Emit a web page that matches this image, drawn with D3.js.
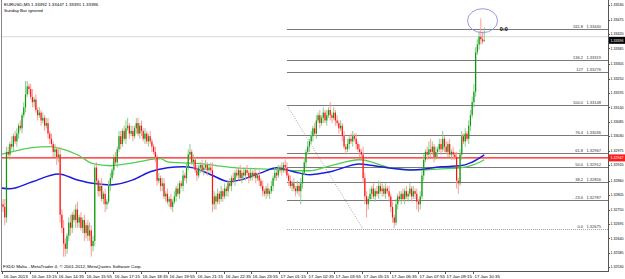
<!DOCTYPE html>
<html>
<head>
<meta charset="utf-8">
<script src="https://cdn.jsdelivr.net/npm/d3@7"></script>
<style>
body { margin: 0; background: #fff; }
text { font-family: "Liberation Sans", Arial, sans-serif; }
</style>
</head>
<body>
<svg id="plotCanvas" width="625" height="279"></svg>
<script>
// ---- data ----
var symbolLine = "EURUSD,M5  1.33392 1.33447 1.33391 1.33396";
var noteLine = "Sunday Bar ignored";
var copyrightLine = "FXDD Malta - MetaTrader 4, \u00a9 2001-2012, MetaQuotes Software Corp.";

var timeLabels = ["16 Jan 2013", "16 Jan 13:15", "16 Jan 14:35", "16 Jan 15:55", "16 Jan 17:15",
  "16 Jan 18:35", "16 Jan 19:55", "16 Jan 21:15", "16 Jan 22:35", "16 Jan 23:55", "17 Jan 01:15",
  "17 Jan 02:35", "17 Jan 03:55", "17 Jan 05:15", "17 Jan 06:35", "17 Jan 07:55", "17 Jan 09:15",
  "17 Jan 10:35"];
var barsPerLabel = 16;

var priceTicks = [1.33530, 1.33475, 1.33420, 1.33365, 1.33305, 1.33250, 1.33195, 1.33140, 1.33085,
  1.33030, 1.32975, 1.32920, 1.32860, 1.32805, 1.32750, 1.32695, 1.32640, 1.32585, 1.32530];

var firstOpen = 1.3277;
var closes = [
  1.3276,1.3272,1.3297,1.3296,1.3300,1.3299,1.3303,1.3301,1.3304,1.3307,
  1.3306,1.3311,1.3314,1.3319,1.3322,1.3321,1.3318,1.3316,1.3317,1.3313,
  1.3311,1.3312,1.3309,1.3310,1.3307,1.3308,1.3304,1.3302,1.3300,1.3297,
  1.3298,1.3295,1.3296,1.3273,1.3268,1.3262,1.3260,1.3265,1.3270,1.3268,
  1.3273,1.3271,1.3275,1.3270,1.3272,1.3268,1.3271,1.3266,1.3269,1.3265,
  1.3267,1.3261,1.3263,1.3291,1.3286,1.3282,1.3284,1.3279,1.3281,1.3277,
  1.3278,1.3284,1.3287,1.3290,1.3295,1.3293,1.3298,1.3303,1.3300,1.3305,
  1.3302,1.3306,1.3307,1.3304,1.3305,1.3303,1.3306,1.3308,1.3304,1.3307,
  1.3305,1.3302,1.3304,1.3301,1.3303,1.3301,1.3299,1.3297,1.3295,1.3286,
  1.3287,1.3284,1.3285,1.3280,1.3281,1.3278,1.3279,1.3276,1.3278,1.3280,
  1.3283,1.3281,1.3285,1.3284,1.3288,1.3287,1.3291,1.3296,1.3297,1.3293,
  1.3294,1.3290,1.3288,1.3291,1.3292,1.3290,1.3291,1.3292,1.3290,1.3291,
  1.3290,1.3277,1.3280,1.3278,1.3281,1.3279,1.3282,1.3280,1.3283,1.3282,
  1.3285,1.3284,1.3287,1.3286,1.3289,1.3288,1.3290,1.3287,1.3289,1.3288,
  1.3290,1.3289,1.3287,1.3289,1.3288,1.3289,1.3287,1.3288,1.3286,1.3284,
  1.3282,1.3281,1.3283,1.3281,1.3282,1.3284,1.3287,1.3289,1.3288,1.3290,
  1.3291,1.3290,1.3292,1.3291,1.3288,1.3286,1.3284,1.3285,1.3283,1.3282,
  1.3284,1.3282,1.3285,1.3289,1.3293,1.3297,1.3299,1.3301,1.3303,1.3306,
  1.3304,1.3309,1.3311,1.3308,1.3310,1.3312,1.3309,1.3311,1.3313,1.3311,
  1.3310,1.3312,1.3309,1.3308,1.3306,1.3307,1.3303,1.3299,1.3298,1.3300,
  1.3302,1.3301,1.3303,1.3302,1.3300,1.3298,1.3297,1.3296,1.3287,1.3280,
  1.3277,1.3279,1.3281,1.3283,1.3280,1.3282,1.3281,1.3284,1.3282,1.3283,
  1.3281,1.3283,1.3282,1.3280,1.3276,1.3272,1.3270,1.3277,1.3280,1.3279,
  1.3281,1.3279,1.3282,1.3280,1.3281,1.3283,1.3280,1.3282,1.3281,1.3278,
  1.3277,1.3280,1.3288,1.3294,1.3297,1.3296,1.3298,1.3297,1.3299,1.3295,
  1.3297,1.3298,1.3300,1.3298,1.3302,1.3299,1.3297,1.3300,1.3296,1.3297,
  1.3296,1.3295,1.3286,1.3285,1.3296,1.3303,1.3301,1.3304,1.3302,1.3307,
  1.3311,1.3316,1.3320,1.3335,1.3338,1.3341,1.3340,1.33392,1.33396
];
// wick lengths in pips above / below the body
var wickUp = [
  2,3,2,2,1,3,1,2,2,1, 2,1,2,5,2,1,2,3,1,2, 1,2,1,2,1,2,2,1,2,1, 2,1,2,3,2,3,2,1,2,3,
  1,2,2,3,1,2,1,2,1,2, 3,2,2,1,2,1,2,3,1,2, 1,2,2,1,1,2,1,2,2,1, 2,3,3,1,2,2,1,2,2,1,
  2,1,2,1,1,2,1,1,2,1, 2,1,2,2,1,2,1,2,1,2, 1,2,1,1,2,1,2,2,3,1, 2,1,2,1,1,2,1,2,1,1,
  2,3,2,1,2,1,2,1,2,1, 1,2,1,2,1,2,1,2,1,2, 1,2,1,2,1,1,2,1,2,1, 2,1,1,2,1,2,1,2,1,2,
  1,2,1,2,2,1,2,1,2,1, 2,1,2,1,2,1,2,1,2,1, 2,2,1,2,1,2,1,2,1,3, 1,2,1,2,1,2,1,2,1,2,
  1,2,2,1,2,1,2,1,3,2, 2,1,2,1,2,1,2,2,1,2, 1,2,1,2,1,2,1,2,1,2, 1,2,1,2,1,2,1,2,1,2,
  1,2,2,2,1,2,3,4,2,1, 2,1,2,2,3,1,2,1,2,1, 2,1,2,1,2,2,1,2,1,2, 2,2,3,2,2,2,7,3,5
];
var wickDown = [
  2,3,2,1,2,1,2,1,2,2, 1,2,1,2,1,2,1,2,2,1, 2,1,2,1,2,1,2,2,1,2, 2,3,2,3,2,5,3,2,2,3,
  2,1,3,2,2,1,2,3,2,2, 2,4,2,2,1,2,2,1,2,3, 2,1,2,1,2,1,2,1,2,1, 1,2,1,2,1,2,1,2,1,2,
  2,1,2,1,2,1,2,1,2,2, 1,2,2,1,2,1,2,1,2,1, 2,1,2,1,2,1,2,1,2,1, 2,1,2,1,2,1,2,1,2,1,
  1,3,2,3,1,2,1,2,1,2, 2,1,2,1,2,1,2,1,2,1, 2,1,2,1,2,1,2,1,2,1, 2,1,2,1,2,1,2,1,2,1,
  1,2,1,2,1,2,1,2,1,2, 1,2,5,2,1,2,1,2,1,2, 1,2,1,2,1,2,1,2,1,2, 2,1,2,1,2,1,2,1,2,1,
  2,1,2,1,2,1,2,1,2,3, 5,2,1,2,1,2,1,2,1,2, 1,2,1,2,2,2,2,1,2,1, 2,1,2,1,2,1,2,1,2,3,
  3,2,1,2,1,2,1,2,1,2, 1,2,1,2,1,2,1,2,1,2, 2,1,3,4,1,2,1,2,1,2, 2,1,2,2,1,2,2,1,0
];

// moving averages, read as points (bar index, price)
var maGreenBars = [-2, 10, 17, 27, 31, 43, 52, 62, 75, 91, 95, 104, 114, 124, 135, 149, 162, 172, 177, 189, 206, 224, 241, 253, 264, 272, 278];
var maGreenPrices = [1.32959, 1.32978, 1.32986, 1.32990, 1.32986, 1.32959, 1.32925, 1.32917, 1.32928, 1.32944, 1.32932, 1.32928, 1.32925, 1.32917, 1.32909, 1.32905, 1.32901, 1.32898, 1.32898, 1.32917, 1.32940, 1.32909, 1.32901, 1.32905, 1.32909, 1.32921, 1.32940];
var maBlueBars = [-2, 4, 17, 32, 43, 54, 62, 75, 85, 95, 104, 110, 120, 131, 137, 149, 158, 168, 177, 189, 206, 218, 237, 253, 264, 270, 278];
var maBluePrices = [1.32833, 1.32829, 1.32856, 1.32886, 1.32863, 1.32848, 1.32844, 1.32863, 1.32894, 1.32909, 1.32913, 1.32909, 1.32883, 1.32856, 1.32863, 1.32890, 1.32909, 1.32894, 1.32883, 1.32894, 1.32924, 1.32913, 1.32901, 1.32913, 1.32917, 1.32928, 1.32959];

// fibonacci levels
var fibNames = ["161.8", "136.2", "127", "100.0", "76.4", "61.8", "50.0", "38.2", "23.6", "0.0"];
var fibPrices = [1.33440, 1.33319, 1.33276, 1.33148, 1.33036, 1.32967, 1.32912, 1.32856, 1.32787, 1.32675];
var fibStartBar = 164;
var trendBars = [164, 208];
var trendPrices = [1.33148, 1.32675];

var levelPrice = 1.32947;
var askPrice = 1.33410;
var lastPrice = 1.33396;
var circleBar = 277, circlePrice = 1.33471;
var timerText = "0:0", timerBar = 287, timerPrice = 1.33440;

// ---- layout ----
var canvasWidth = 625;
var canvasHeight = 279;
var plotLeft = 2, plotRight = 608, plotTop = 0, plotBottom = 271;
var fontSize = 4.4;
//price labels are smaller so they fit in the strip right of the axis
var axisFontSize = 3.6;
var axisLabelX = plotRight + 2.5;

var canvas = d3.select("#plotCanvas");

var x = d3.scaleLinear().domain([0, barsPerLabel]).range([3, 30.7]);
var y = d3.scaleLinear().domain([1.32519, 1.33550]).range([270, 0]);

canvas.append("defs").append("clipPath").attr("id", "plotClip")
    .append("rect")
    .attr("x", plotLeft).attr("y", plotTop)
    .attr("width", plotRight - plotLeft).attr("height", plotBottom - plotTop);

var plot = canvas.append("g").attr("clip-path", "url(#plotClip)");

// header texts
canvas.append("text").attr("x", 4).attr("y", 6).attr("font-size", fontSize + "px").attr("fill", "black").text(symbolLine);
canvas.append("text").attr("x", 4).attr("y", 11.5).attr("font-size", fontSize + "px").attr("fill", "black").text(noteLine);

// ask line
plot.append("line")
    .attr("x1", plotLeft).attr("x2", plotRight)
    .attr("y1", y(askPrice)).attr("y2", y(askPrice))
    .attr("stroke", "#cfcfcf").attr("stroke-width", 0.8);

// fibonacci lines
fibPrices.forEach(function(p, i) {
   var dim = (fibNames[i] == "0.0");
   plot.append("line")
       .attr("x1", x(fibStartBar)).attr("x2", plotRight)
       .attr("y1", Math.round(y(p)) + 0.5).attr("y2", Math.round(y(p)) + 0.5)
       .attr("stroke", dim ? "#a0a0a0" : "#7a7a7a")
       .attr("stroke-width", 1)
       .attr("stroke-dasharray", dim ? "1,1" : null);
   plot.append("text")
       .attr("x", 583).attr("y", y(p) - 1)
       .attr("text-anchor", "end")
       .attr("font-size", (fontSize - 0.4) + "px")
       .attr("fill", "#333")
       .text(fibNames[i]);
   plot.append("text")
       .attr("x", 601).attr("y", y(p) - 1)
       .attr("text-anchor", "end")
       .attr("font-size", (fontSize - 0.4) + "px")
       .attr("fill", "#333")
       .text(p.toFixed(5));
});

// dotted trend line of the fibo
plot.append("line")
    .attr("x1", x(trendBars[0])).attr("y1", y(trendPrices[0]))
    .attr("x2", x(trendBars[1])).attr("y2", y(trendPrices[1]))
    .attr("stroke", "#8a8a8a").attr("stroke-width", 0.8)
    .attr("stroke-dasharray", "1,1.5");

// red horizontal level
plot.append("line")
    .attr("x1", plotLeft).attr("x2", plotRight)
    .attr("y1", y(levelPrice)).attr("y2", y(levelPrice))
    .attr("stroke", "#ff1a1a").attr("stroke-width", 1.3);

// moving averages
var maLine = d3.line().curve(d3.curveMonotoneX);
plot.append("path")
    .attr("d", maLine(maGreenBars.map(function(b, i) { return [x(b), y(maGreenPrices[i])]; })))
    .attr("fill", "none").attr("stroke", "#4fcf4f").attr("stroke-width", 1.3);
plot.append("path")
    .attr("d", maLine(maBlueBars.map(function(b, i) { return [x(b), y(maBluePrices[i])]; })))
    .attr("fill", "none").attr("stroke", "#1c1ce0").attr("stroke-width", 1.5);

// candles
var candles = closes.map(function(c, i) {
   var o = (i == 0) ? firstOpen : closes[i - 1];
   return {
      i: i, open: o, close: c,
      high: Math.max(o, c) + wickUp[i] * 0.0001,
      low: Math.min(o, c) - wickDown[i] * 0.0001
   };
});

var candleG = plot.append("g");
candleG.selectAll("line.wick").data(candles).enter().append("line")
    .attr("class", "wick")
    .attr("x1", function(d) { return x(d.i); })
    .attr("x2", function(d) { return x(d.i); })
    .attr("y1", function(d) { return y(d.high); })
    .attr("y2", function(d) { return y(d.low); })
    .attr("stroke", function(d) { return d.close >= d.open ? "#7fc77f" : "#ff8f8f"; })
    .attr("stroke-width", 0.9);
candleG.selectAll("rect.body").data(candles).enter().append("rect")
    .attr("class", "body")
    .attr("x", function(d) { return x(d.i) - 0.6; })
    .attr("width", 1.2)
    .attr("y", function(d) { return y(Math.max(d.open, d.close)); })
    .attr("height", function(d) { return Math.max(0.8, Math.abs(y(d.open) - y(d.close))); })
    .attr("fill", function(d) { return d.close >= d.open ? "#0a9a0a" : "#ff1010"; });

// circled top and timer
plot.append("ellipse")
    .attr("cx", x(circleBar)).attr("cy", y(circlePrice))
    .attr("rx", 15).attr("ry", 12)
    .attr("fill", "none").attr("stroke", "#8c8cdc").attr("stroke-width", 0.9);
plot.append("text")
    .attr("x", x(timerBar)).attr("y", y(timerPrice) + 2)
    .attr("font-size", "5.5px").attr("font-weight", "bold").attr("fill", "black")
    .text(timerText);

// copyright
plot.append("text").attr("x", 3).attr("y", 268).attr("font-size", fontSize + "px").attr("fill", "black").text(copyrightLine);

// frame
canvas.append("line").attr("x1", plotLeft - 0.5).attr("x2", plotLeft - 0.5).attr("y1", plotTop).attr("y2", plotBottom)
    .attr("stroke", "#888").attr("stroke-width", 1);
canvas.append("line").attr("x1", plotRight + 0.5).attr("x2", plotRight + 0.5).attr("y1", plotTop).attr("y2", plotBottom)
    .attr("stroke", "#555").attr("stroke-width", 1);
canvas.append("line").attr("x1", plotLeft - 1).attr("x2", plotRight + 1).attr("y1", plotBottom + 0.5).attr("y2", plotBottom + 0.5)
    .attr("stroke", "#555").attr("stroke-width", 1);

// price axis
priceTicks.forEach(function(p) {
   canvas.append("line")
       .attr("x1", plotRight).attr("x2", plotRight + 2)
       .attr("y1", Math.round(y(p)) + 0.5).attr("y2", Math.round(y(p)) + 0.5)
       .attr("stroke", "#555");
   canvas.append("text")
       .attr("x", axisLabelX).attr("y", y(p))
       .attr("dy", "0.35em")
       .attr("font-size", axisFontSize + "px").attr("fill", "black")
       .text(p.toFixed(5));
});

// price boxes on axis
function priceBox(p, bg)
{
   canvas.append("rect")
       .attr("x", plotRight + 1).attr("y", y(p) - 3.5)
       .attr("width", canvasWidth - plotRight).attr("height", 7)
       .attr("fill", bg);
   canvas.append("text")
       .attr("x", axisLabelX).attr("y", y(p))
       .attr("dy", "0.35em")
       .attr("font-size", axisFontSize + "px").attr("fill", "white")
       .text(p.toFixed(5));
}
priceBox(levelPrice, "#ff1a1a");
priceBox(lastPrice, "black");

// time axis
timeLabels.forEach(function(t, k) {
   var tx = Math.round(x(k * barsPerLabel)) - 0.5;
   canvas.append("line")
       .attr("x1", tx).attr("x2", tx)
       .attr("y1", plotBottom).attr("y2", plotBottom + 3)
       .attr("stroke", "#555");
   canvas.append("text")
       .attr("x", tx + 1).attr("y", 277.5)
       .attr("font-size", fontSize + "px").attr("fill", "black")
       .text(t);
});
</script>
</body>
</html>
